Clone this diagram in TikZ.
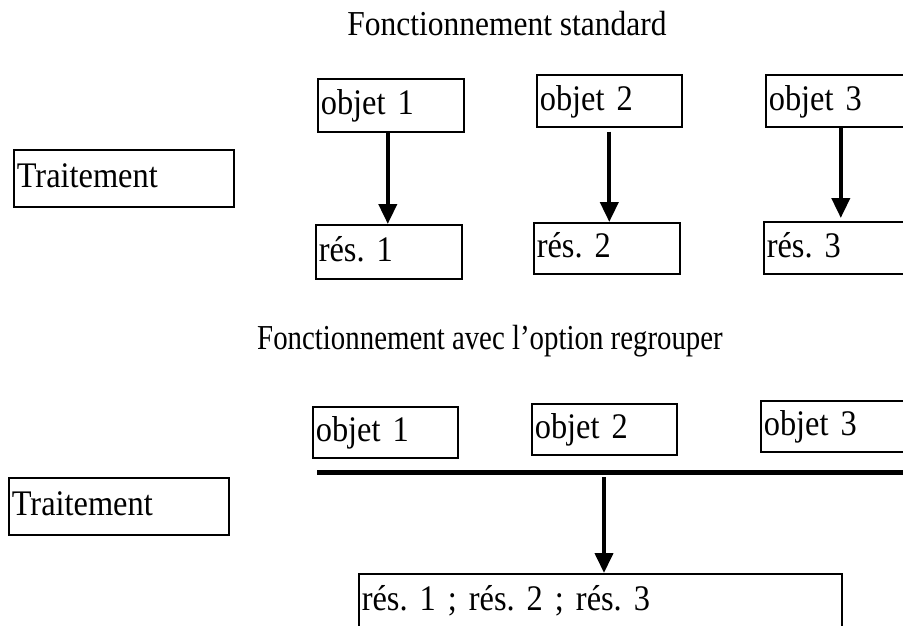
\documentclass[tikz,border=0pt]{standalone}
\usepackage{fontspec}
\setmainfont{Liberation Serif}[FakeStretch=0.9]
\usetikzlibrary{arrows.meta}
\frenchspacing
\begin{document}
\begin{tikzpicture}[x=1pt,y=-1pt,
  box/.style n args={2}{draw, line width=1.6pt, anchor=north west, inner xsep=3pt, inner ysep=0pt,
    text width=#1, minimum height=#2, align=left, text height=25pt, text depth=6pt,
    font=\fontsize{36}{42}\selectfont},
  title/.style={anchor=base, inner sep=0pt, font=\fontsize{35}{40}\selectfont},
  flow/.style={line width=4pt, -{Triangle[width=18pt,length=20pt]}},
  bar/.style={line width=5pt}]
\useasboundingbox (0,0) rectangle (903,626);
\clip (0,0) rectangle (903,626);

% --- standard ---
\node[title] (t1) at (507,36) {Fonctionnement standard};
\node[box={214pt}{57pt}] (T1) at (13,149) {Traitement};
\node[box={140pt}{53pt}] (o1) at (317,78) {objet 1};
\node[box={139pt}{52pt}] (o2) at (536,74) {objet 2};
\node[box={140pt}{52pt}] (o3) at (765,74) {objet 3};
\node[box={140pt}{54pt}] (r1) at (315,224) {rés. 1};
\node[box={140pt}{51pt}] (r2) at (533,222) {rés. 2};
\node[box={140pt}{52pt}] (r3) at (763,221) {rés. 3};

\path ([xshift=-3pt]o1.south) coordinate (a1)
      ([yshift=-4pt]o2.south) coordinate (a2)
      ([xshift=2pt]o3.south) coordinate (a3);
\draw[flow] (a1) -- (a1 |- r1.north);
\draw[flow] (a2) -- (a2 |- r2.north);
\draw[flow] (a3) -- ([yshift=3pt]a3 |- r3.north);

% --- regrouper ---
\node[title] (t2) at (490,349) {\scalebox{0.916}[1]{Fonctionnement avec l’option regrouper}};
\node[box={214pt}{57pt}] (T2) at (8,477) {Traitement};
\node[box={139pt}{51pt}] (b1) at (312,406) {objet 1};
\node[box={139pt}{51pt}] (b2) at (531,403) {objet 2};
\node[box={140pt}{51pt}] (b3) at (760,400) {objet 3};
\node[box={477pt}{55pt}] (R) at (358,573) {rés. 1 ; rés. 2 ; rés. 3};

\coordinate (barL) at (317,472);
\coordinate (barR) at (915,472);
\draw[bar] (barL) -- (barR);
\coordinate (barA) at (604,477);
\draw[flow] (barA) -- (barA |- R.north);
\end{tikzpicture}
\end{document}
